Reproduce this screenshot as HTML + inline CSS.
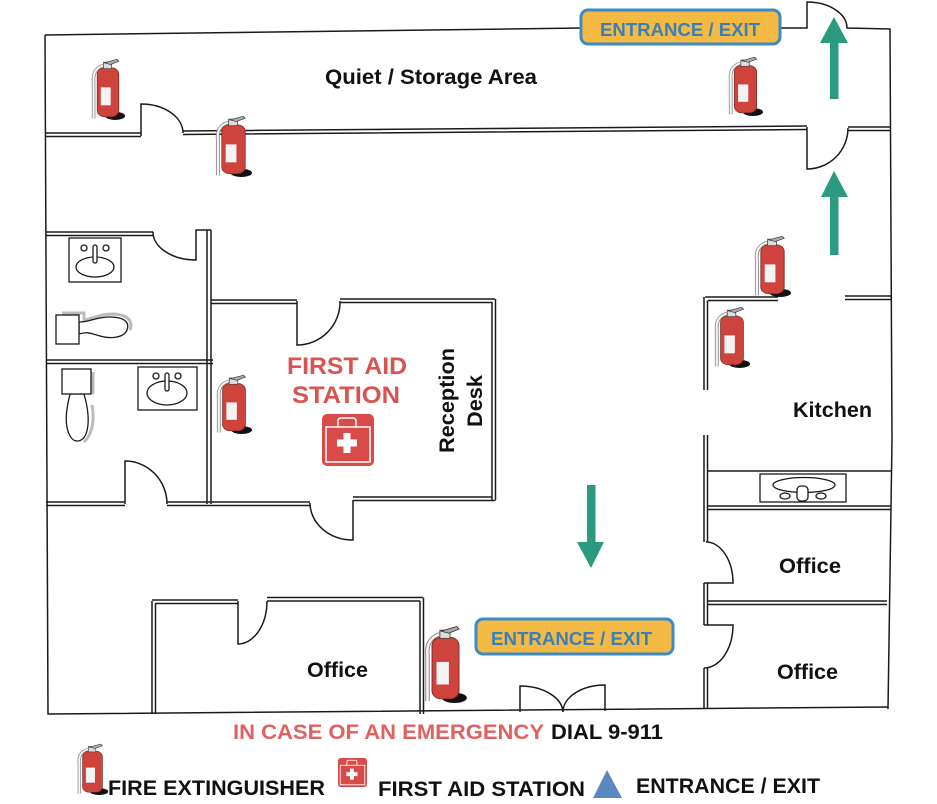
<!DOCTYPE html>
<html><head><meta charset="utf-8"><style>
html,body{margin:0;padding:0;background:#fff;}
svg{display:block;}
text{font-family:"Liberation Sans",Arial,sans-serif;font-weight:bold;}
</style></head><body>
<svg width="937" height="804" viewBox="0 0 937 804" xmlns="http://www.w3.org/2000/svg">
<defs>
<symbol id="ext" viewBox="0 0 40 76" preserveAspectRatio="none">
 <ellipse cx="28" cy="71" rx="11" ry="5" fill="#111"/>
 <path d="M15 9 C6 12 3 20 4 30 L4 74" fill="none" stroke="#888" stroke-width="4"/>
 <path d="M15 9 C6 12 3 20 4 30 L4 74" fill="none" stroke="#f6f6f6" stroke-width="2.2"/>
 <rect x="8" y="12" width="24" height="60" rx="8" fill="#cf433d" stroke="#7a2420" stroke-width="0.8"/>
 <rect x="12" y="36" width="11" height="22" fill="#f3f3f3"/>
 <rect x="15" y="5" width="9" height="8" fill="#ddd" stroke="#444" stroke-width="0.8"/>
 <path d="M16 6 L30 1.5 L32 4 L23 8 Z" fill="#aaa" stroke="#333" stroke-width="0.8"/>
</symbol>
<symbol id="kit" viewBox="0 0 52 52" preserveAspectRatio="none">
 <rect x="0" y="0" width="52" height="52" rx="5" fill="#d84b48"/>
 <path d="M16 13 L16 7 Q16 4 19 4 L31 4 Q34 4 34 7 L34 13" fill="none" stroke="#fff" stroke-width="1.5"/>
 <rect x="4" y="13" width="44" height="35" fill="none" stroke="#fff" stroke-width="1.5"/>
 <rect x="21.5" y="19" width="7" height="20" fill="#fff"/>
 <rect x="15" y="25.5" width="20" height="7" fill="#fff"/>
</symbol>
</defs>

<g stroke="#1a1a1a" stroke-width="1.5" fill="none">
 <path d="M45 35 L581 28"/>
 <path d="M780 28 L807 28 L807 2 A40 26 0 0 1 847 28 L890 29 L892 440 L888 709"/>
 <path d="M45 35 L48 714 L888 707"/>
 <path d="M45 133 L141 133 M45 136.5 L141 136.5"/>
 <path d="M141 136 L141 104 A42 29 0 0 1 183 133"/>
 <path d="M183 131 L807 126 M183 134.5 L807 129.5"/>
 <path d="M807 127 L807 169 A41 41 0 0 0 848 128"/>
 <path d="M848 127 L890 127 M848 130.5 L890 130.5"/>
 <path d="M46 232 L153 232 M46 235.5 L153 235.5"/>
 <path d="M153 232 A43 28 0 0 0 196 260 L196 230 L211 230"/>
 <path d="M207 230 L207 504 M211 230 L211 504"/>
 <path d="M46 360 L213 360 M46 363.5 L213 363.5"/>
 <path d="M46 502 L125 502 M46 505.5 L125 505.5"/>
 <path d="M125 504 L125 461 A42 43 0 0 1 167 504"/>
 <path d="M167 502 L310 502 M167 505.5 L310 505.5"/>
 <path d="M211 300 L297 300 M211 303.5 L297 303.5"/>
 <path d="M297 301 L297 345 A43 43 0 0 0 340 301"/>
 <path d="M340 299 L495 299 M340 302.5 L492 302.5"/>
 <path d="M492 302 L492 500 M495.5 299 L495.5 500"/>
 <path d="M353 497 L492 497 M353 500.5 L495.5 500.5"/>
 <path d="M310 503 A43 37 0 0 0 353 540 L353 500"/>
 <path d="M152 601 L152 714 M155.5 603 L155.5 714"/>
 <path d="M152 600 L238 600 M155.5 603.5 L238 603.5"/>
 <path d="M238 601 L238 644 A29 43 0 0 0 267 601"/>
 <path d="M267 597.5 L423 597.5 M267 601 L420 601"/>
 <path d="M420 601 L420 714 M423.5 597.5 L423.5 714"/>
 <path d="M705 297 L778 297 M708 300.5 L778 300.5"/>
 <path d="M845 296 L892 296 M845 299.5 L892 299.5"/>
 <path d="M704 297 L704 390 M707.5 300.5 L707.5 390"/>
 <path d="M704 435 L704 542 M707.5 435 L707.5 542"/>
 <path d="M706 542 A27 41 0 0 1 733 583 L704 583"/>
 <path d="M704 583 L704 625 M707.5 583 L707.5 625"/>
 <path d="M704 625 L733 625 A29 43 0 0 1 704 668"/>
 <path d="M704 668 L704 709 M707.5 668 L707.5 709"/>
 <path d="M708 471 L891 471"/>
 <path d="M708 506 L891 506 M708 509.5 L891 509.5"/>
 <path d="M707 601 L887 601 M707 604.5 L887 604.5"/>
 <path d="M520 712 L520 686 A43 27 0 0 1 563 712"/>
 <path d="M605 711 L605 685 A42 27 0 0 0 563 712"/>
</g>

<g stroke="#1a1a1a" stroke-width="1.3" fill="#fff">
 <rect x="760" y="474" width="86" height="28"/>
 <ellipse cx="804" cy="485" rx="31" ry="7.5"/>
 <rect x="797" y="486" width="11" height="15" rx="4"/>
 <ellipse cx="785" cy="496" rx="5" ry="3"/>
 <ellipse cx="821" cy="496" rx="5" ry="3"/>
</g>

<g fill="none" stroke="#bbb" stroke-width="3">
 <path d="M62 313 L84 313 L84 320 C95 318 100 314 114 314 C129 315 133 322 130 330"/>
 <path d="M93 372 L93 394 M92 405 C95 420 92 435 84 442"/>
</g>
<g stroke="#1a1a1a" stroke-width="1.3" fill="#fff">
 <rect x="69" y="238" width="52" height="44"/>
 <ellipse cx="95" cy="267" rx="19" ry="10"/>
 <rect x="93" y="245" width="4" height="18" rx="2"/>
 <circle cx="84" cy="248" r="3"/>
 <circle cx="106" cy="248" r="3"/>
 <rect x="138" y="367" width="59" height="43"/>
 <ellipse cx="167" cy="393" rx="20" ry="12"/>
 <rect x="165" y="373" width="4" height="18" rx="2"/>
 <circle cx="156" cy="376" r="3"/>
 <circle cx="178" cy="376" r="3"/>
 <path d="M79 322 C90 322 96 317 110 317 C124 317 130 322 127 330 C124 338 110 339 100 336 C92 334 88 331 79 334 Z"/>
 <rect x="56" y="315" width="23" height="29"/>
 <path d="M70 394 C66 410 64 425 70 436 C74 443 82 443 86 434 C90 423 88 408 84 394 Z"/>
 <rect x="62" y="369" width="29" height="25"/>
</g>

<g fill="#2b9a80">
 <rect x="830" y="42" width="8.5" height="57"/>
 <polygon points="820,43 834,17 848,43"/>
 <rect x="830" y="196" width="8.5" height="59"/>
 <polygon points="821,197 834,171 848,197"/>
 <rect x="587" y="485" width="8.5" height="58"/>
 <polygon points="577,542 604,542 591,568"/>
</g>

<rect x="581" y="10" width="199" height="34" rx="7" fill="#f4b942" stroke="#3b8ac6" stroke-width="3"/>
<text x="600" y="36" font-size="18" fill="#3a80b8" textLength="160" lengthAdjust="spacingAndGlyphs">ENTRANCE / EXIT</text>
<rect x="476" y="619" width="197" height="35" rx="7" fill="#f4b942" stroke="#3b8ac6" stroke-width="3"/>
<text x="491" y="645" font-size="18" fill="#3a80b8" textLength="161" lengthAdjust="spacingAndGlyphs">ENTRANCE / EXIT</text>

<use href="#ext" x="90" y="58" width="36" height="62"/>
<use href="#ext" x="214" y="115" width="39" height="62"/>
<use href="#ext" x="727" y="56" width="37" height="60"/>
<use href="#ext" x="753" y="235" width="39" height="62"/>
<use href="#ext" x="713" y="306" width="38" height="62"/>
<use href="#ext" x="215" y="374" width="38" height="60"/>
<use href="#ext" x="423" y="625" width="45" height="78"/>
<use href="#ext" x="76" y="743" width="33" height="52"/>

<use href="#kit" x="322" y="414" width="52" height="52"/>
<use href="#kit" x="338" y="758" width="29" height="29"/>

<text x="325" y="84" font-size="21" fill="#111" textLength="212" lengthAdjust="spacingAndGlyphs">Quiet / Storage Area</text>
<text x="287" y="374" font-size="24" fill="#d9534f" textLength="120" lengthAdjust="spacingAndGlyphs">FIRST AID</text>
<text x="292" y="403" font-size="24" fill="#d9534f" textLength="108" lengthAdjust="spacingAndGlyphs">STATION</text>
<text transform="translate(454,453) rotate(-90)" font-size="21" fill="#111" textLength="105" lengthAdjust="spacingAndGlyphs">Reception</text>
<text transform="translate(482,427) rotate(-90)" font-size="21" fill="#111" textLength="52" lengthAdjust="spacingAndGlyphs">Desk</text>
<text x="793" y="417" font-size="21" fill="#111" textLength="79" lengthAdjust="spacingAndGlyphs">Kitchen</text>
<text x="779" y="573" font-size="21" fill="#111" textLength="62" lengthAdjust="spacingAndGlyphs">Office</text>
<text x="777" y="679" font-size="21" fill="#111" textLength="61" lengthAdjust="spacingAndGlyphs">Office</text>
<text x="307" y="677" font-size="21" fill="#111" textLength="61" lengthAdjust="spacingAndGlyphs">Office</text>

<text x="233" y="739" font-size="21" fill="#e0615f" textLength="311" lengthAdjust="spacingAndGlyphs">IN CASE OF AN EMERGENCY</text>
<text x="551" y="739" font-size="21" fill="#111" textLength="112" lengthAdjust="spacingAndGlyphs">DIAL 9-911</text>

<text x="108" y="795" font-size="21" fill="#111" textLength="217" lengthAdjust="spacingAndGlyphs">FIRE EXTINGUISHER</text>
<text x="378" y="796" font-size="21" fill="#111" textLength="207" lengthAdjust="spacingAndGlyphs">FIRST AID STATION</text>
<polygon points="593,798 607,770 622,798" fill="#5b86c0"/>
<text x="636" y="793" font-size="21" fill="#111" textLength="184" lengthAdjust="spacingAndGlyphs">ENTRANCE / EXIT</text>
</svg>
</body></html>
